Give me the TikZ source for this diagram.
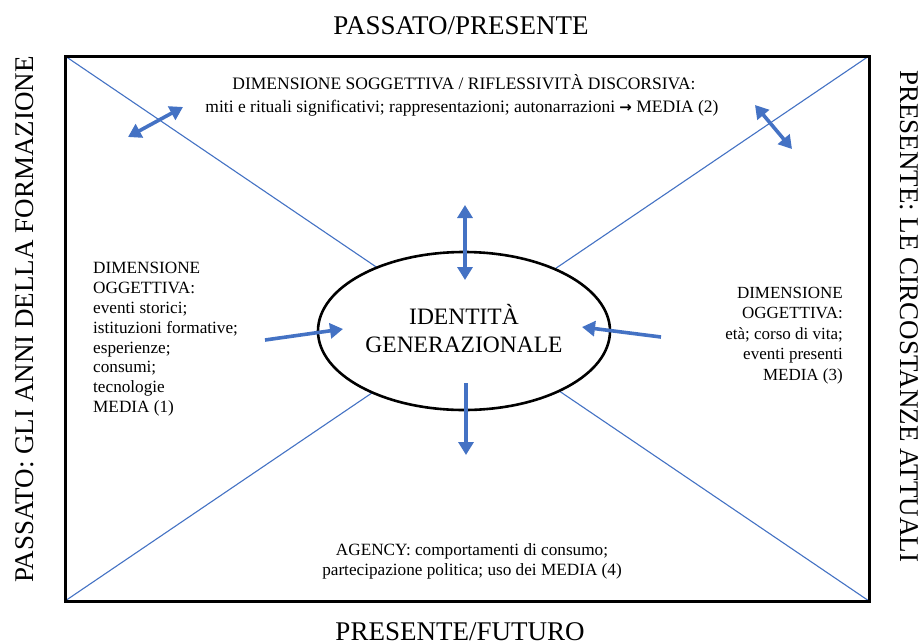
\documentclass[tikz,border=0pt]{standalone}
\usepackage{fontspec}
\setmainfont{Liberation Serif}
\usetikzlibrary{arrows.meta,shapes.geometric}
\definecolor{arrblue}{HTML}{4472C4}
\tikzset{
  diag/.style={draw=arrblue, line width=1.1pt},
  bigarrow/.style={draw=arrblue, line width=3.6pt, -{Triangle[length=13pt,width=15pt]}},
  dblarrow/.style={draw=arrblue, line width=3.6pt, {Triangle[length=13pt,width=15pt]}-{Triangle[length=13pt,width=15pt]}},
  sidetitle/.style={inner sep=0pt, font=\fontsize{27}{32}\selectfont},
  smalltext/.style={inner sep=0pt, font=\fontsize{17.2}{20}\selectfont},
}
\begin{document}
\begin{tikzpicture}[x=1pt,y=-1pt]
\useasboundingbox[fill=white] (0,0) rectangle (924,643);
% frame corners
\coordinate (tl) at (65,56);
\coordinate (tr) at (869,56);
\coordinate (bl) at (65,601);
\coordinate (br) at (869,601);
\draw[diag] (tl) -- (br);
\draw[diag] (tr) -- (bl);
\draw[line width=3pt] (tl) rectangle (br);
% central ellipse
\node[draw, line width=2.6pt, fill=white, ellipse, minimum width=292pt, minimum height=158pt, inner sep=0pt] (ell) at (464,331) {};
\node[inner sep=0pt, font=\fontsize{23.5}{28}\selectfont, anchor=base] (idt) at (464,324) {IDENTITÀ};
\node[inner sep=0pt, font=\fontsize{23.5}{28}\selectfont, anchor=base] (gen) at (464,352) {GENERAZIONALE};
% titles
\node[sidetitle, anchor=base] (ttop) at (461,34) {PASSATO/PRESENTE};
\node[sidetitle, anchor=base] (tbot) at (460,640) {PRESENTE/FUTURO};
\node[sidetitle, anchor=base west, rotate=90] (tleft) at (33,583) {PASSATO: GLI ANNI DELLA FORMAZIONE};
\node[sidetitle, anchor=base west, rotate=-90] (tright) at (900,70) {PRESENTE: LE CIRCOSTANZE ATTUALI};
% texts
\node[smalltext, anchor=base, font=\fontsize{17.5}{20}\selectfont] (sog1) at (464,89) {DIMENSIONE SOGGETTIVA / RIFLESSIVITÀ DISCORSIVA:};
\node[smalltext, anchor=base, font=\fontsize{17.5}{20}\selectfont] (sog2) at (462,112) {miti e rituali significativi; rappresentazioni; autonarrazioni {\fontspec{DejaVu Sans}\bfseries\fontsize{15}{16}\selectfont→} MEDIA (2)};
\node[smalltext, anchor=north west, align=left, font=\fontsize{17.2}{19.86}\selectfont] (lefttext) at (93,262) {DIMENSIONE\\OGGETTIVA:\\eventi storici;\\istituzioni formative;\\esperienze;\\consumi;\\tecnologie\\MEDIA (1)};
\node[smalltext, anchor=north east, align=right, font=\fontsize{17}{20.5}\selectfont] (righttext) at (843,287) {DIMENSIONE\\OGGETTIVA:\\età; corso di vita;\\eventi presenti\\MEDIA (3)};
\node[smalltext, anchor=base] (ag1) at (472,555) {AGENCY: comportamenti di consumo;};
\node[smalltext, anchor=base] (ag2) at (472,575) {partecipazione politica; uso dei MEDIA (4)};
% arrows
\coordinate (a1s) at (128,137); \coordinate (a1e) at (183,107);
\coordinate (a2s) at (755,105); \coordinate (a2e) at (792,149);
\coordinate (a3s) at (465,205); \coordinate (a3e) at (465,280);
\coordinate (a4s) at (466,383); \coordinate (a4e) at (466,455);
\coordinate (a5s) at (265,340); \coordinate (a5e) at (343,329);
\coordinate (a6s) at (661,337); \coordinate (a6e) at (582,327);
\draw[dblarrow] (a1s) -- (a1e);
\draw[dblarrow] (a2s) -- (a2e);
\draw[dblarrow] (a3s) -- (a3e);
\draw[bigarrow] (a4s) -- (a4e);
\draw[bigarrow] (a5s) -- (a5e);
\draw[bigarrow] (a6s) -- (a6e);
\end{tikzpicture}
\end{document}
